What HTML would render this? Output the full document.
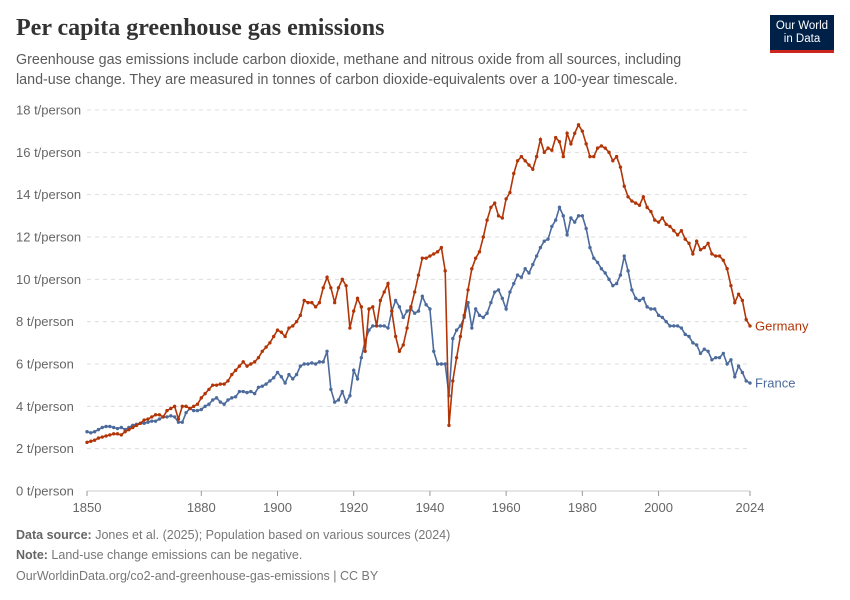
<!DOCTYPE html>
<html><head><meta charset="utf-8"><style>
body{margin:0;background:#fff;font-family:"Liberation Sans",sans-serif;}
#wrap{position:relative;width:850px;height:600px;overflow:hidden}
.t{position:absolute;white-space:nowrap}
</style></head><body><div id="wrap">
<div class="t" style="left:16px;top:15px;font-family:'Liberation Serif',serif;font-size:24px;font-weight:bold;color:#333">Per capita greenhouse gas emissions</div>
<div class="t" style="left:16px;top:51px;font-size:14.3px;line-height:19.5px;color:#5b5b5b">Greenhouse gas emissions include carbon dioxide, methane and nitrous oxide from all sources, including<br>land-use change. They are measured in tonnes of carbon dioxide-equivalents over a 100-year timescale.</div>
<div style="position:absolute;left:770px;top:15px;width:64px;height:38px;background:#002147;border-bottom:3px solid #ce261e;box-sizing:border-box;color:#fff;font-size:11.5px;line-height:13px;text-align:center;padding-top:5px">Our World<br>in Data</div>
<svg id="chart" width="850" height="600" style="position:absolute;left:0;top:0"></svg>
<div class="t" style="left:16px;top:528px;font-size:12.5px;color:#777"><b style="color:#666">Data source:</b> Jones et al. (2025); Population based on various sources (2024)</div>
<div class="t" style="left:16px;top:548px;font-size:12.5px;color:#777"><b style="color:#666">Note:</b> Land-use change emissions can be negative.</div>
<div class="t" style="left:16px;top:569px;font-size:12.5px;color:#777">OurWorldinData.org/co2-and-greenhouse-gas-emissions | CC BY</div>
</div>
<script>
const startYear = 1850;
const yTicks = [0,2,4,6,8,10,12,14,16,18];
const xTicks = [1850,1880,1900,1920,1940,1960,1980,2000,2024];
const germany = [2.3,2.35,2.4,2.5,2.55,2.6,2.65,2.7,2.7,2.65,
2.8,2.9,3.0,3.1,3.2,3.35,3.4,3.5,3.6,3.6,
3.5,3.8,3.9,4.0,3.4,4.0,4.0,3.9,4.0,4.1,
4.4,4.6,4.8,5.0,5.0,5.05,5.05,5.2,5.5,5.7,
5.9,6.1,5.9,6.0,6.1,6.3,6.6,6.8,7.0,7.3,
7.6,7.5,7.3,7.7,7.8,8.0,8.3,9.0,8.9,8.9,
8.7,8.9,9.6,10.1,9.6,8.9,9.6,10.0,9.7,7.7,
8.5,9.1,8.7,6.6,8.6,8.7,7.8,9.0,9.4,9.8,
8.5,7.3,6.6,6.9,7.7,8.7,9.4,10.2,11.0,11.0,
11.1,11.2,11.3,11.5,10.4,3.1,5.2,6.3,7.3,8.3,
9.5,10.5,11.0,11.3,12.0,12.8,13.4,13.6,13.0,12.9,
13.8,14.1,15.0,15.6,15.8,15.6,15.4,15.2,15.8,16.6,
16.0,16.2,16.1,16.7,16.5,15.8,16.9,16.4,16.9,17.3,
17.0,16.4,15.8,15.8,16.2,16.3,16.2,16.0,15.6,15.8,
15.3,14.4,13.9,13.7,13.6,13.5,13.9,13.4,13.2,12.8,
12.7,12.9,12.6,12.5,12.3,12.1,12.3,11.9,11.7,11.2,
11.8,11.4,11.5,11.7,11.2,11.1,11.1,10.9,10.5,9.7,
8.9,9.3,9.0,8.1,7.8];
const france = [2.8,2.75,2.8,2.9,3.0,3.05,3.05,3.0,2.95,3.0,
2.9,3.0,3.1,3.15,3.2,3.2,3.25,3.3,3.3,3.4,
3.5,3.5,3.55,3.5,3.25,3.25,3.7,3.9,3.8,3.8,
3.85,4.0,4.1,4.3,4.4,4.2,4.1,4.3,4.4,4.45,
4.7,4.7,4.65,4.7,4.6,4.9,4.95,5.05,5.2,5.35,
5.6,5.4,5.1,5.5,5.3,5.5,5.9,6.0,6.0,6.05,
6.0,6.1,6.1,6.6,4.8,4.2,4.3,4.7,4.2,4.5,
5.7,5.3,6.3,7.1,7.6,7.8,7.8,7.8,7.8,7.7,
8.5,9.0,8.7,8.2,8.5,8.6,8.4,8.5,9.2,8.8,
8.6,6.6,6.0,6.0,6.0,4.5,7.2,7.6,7.8,8.2,
8.9,7.7,8.6,8.3,8.2,8.4,8.9,9.4,9.5,9.1,
8.6,9.4,9.8,10.2,10.1,10.5,10.3,10.7,11.1,11.5,
11.8,11.9,12.5,12.8,13.4,13.0,12.1,12.9,12.7,13.0,
13.0,12.4,11.5,11.0,10.8,10.5,10.3,10.0,9.7,9.8,
10.2,11.1,10.4,9.5,9.1,9.0,9.1,8.7,8.6,8.6,
8.3,8.2,8.0,7.8,7.8,7.8,7.7,7.4,7.3,7.0,
6.9,6.5,6.7,6.6,6.2,6.3,6.3,6.5,6.0,6.2,
5.4,5.9,5.6,5.2,5.1];
const NS='http://www.w3.org/2000/svg';
const svg=document.getElementById('chart');
const X0=87,X1=750,Y0=491,Y1=110;
function xs(yr){return X0+(yr-1850)*(X1-X0)/(2024-1850);}
function ys(v){return Y0-v*(Y0-Y1)/18;}
function mk(tag,attrs){const e=document.createElementNS(NS,tag);for(const k in attrs)e.setAttribute(k,attrs[k]);svg.appendChild(e);return e;}
yTicks.forEach(v=>{
  const g=mk('line',{x1:X0,x2:X1,y1:ys(v),y2:ys(v),stroke:v===0?'#ccc':'#ddd','stroke-dasharray':v===0?'':'4,4'});
  
  
  const t=mk('text',{x:16,y:ys(v)+4.5,'font-size':13,fill:'#666','font-family':'Liberation Sans,sans-serif'});
  t.textContent=v+' t/person';
  
  
});
xTicks.forEach(yr=>{
  const l=mk('line',{x1:xs(yr),x2:xs(yr),y1:Y0,y2:Y0+5,stroke:'#999'});
  
  
  const t=mk('text',{x:xs(yr),y:512,'font-size':13,fill:'#666','text-anchor':'middle','font-family':'Liberation Sans,sans-serif'});
  t.textContent=yr;
  
  
});
function series(data,color,name,label){
  const pts=data.map((v,i)=>xs(startYear+i).toFixed(1)+','+ys(v).toFixed(1)).join(' ');
  const p=mk('polyline',{points:pts,fill:'none',stroke:color,'stroke-width':1.6});
  
  
  data.forEach((v,i)=>{
    const c=mk('circle',{cx:xs(startYear+i),cy:ys(v),r:1.7,fill:color});
    
    
  });
  const last=data[data.length-1];
  const t=mk('text',{x:755,y:ys(last)+4.5,'font-size':13,fill:color,'font-family':'Liberation Sans,sans-serif'});
  t.textContent=label;
  
  
}
series(france,'#4c6a9c','france','France');
series(germany,'#b13507','germany','Germany');
</script>
</body></html>
